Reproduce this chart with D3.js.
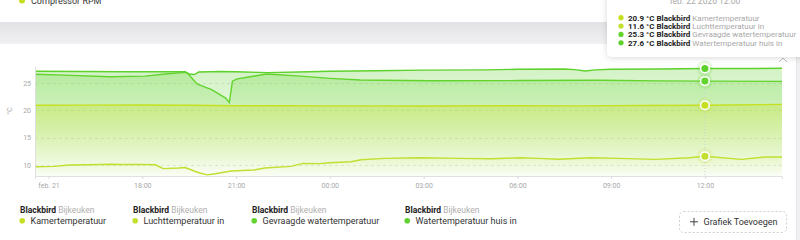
<!DOCTYPE html>
<html>
<head>
<meta charset="utf-8">
<script src="https://cdn.jsdelivr.net/npm/d3@7"></script>
<style>
  body { margin: 0; background: #f0f0f2; font-family: Roboto, "Noto Sans", sans-serif; }
  svg { display: block; }
</style>
</head>
<body>
<svg width="800" height="240"></svg>
<script>
// values, time is "day hh:mm" in feb 2026
var kamerTemp = [
  ["21 14:34", 20.9], ["21 16:00", 20.92], ["21 18:00", 20.95], ["21 19:30", 20.9],
  ["21 21:00", 20.8], ["21 22:30", 20.8], ["22 00:00", 20.78], ["22 03:00", 20.75],
  ["22 06:00", 20.8], ["22 08:00", 20.78], ["22 10:00", 20.85], ["22 12:00", 20.9],
  ["22 14:28", 21.05]
];
var luchtTemp = [
  ["21 14:34", 9.7], ["21 15:10", 9.75], ["21 15:40", 10.0], ["21 16:20", 10.05],
  ["21 17:00", 10.15], ["21 17:20", 10.1], ["21 17:55", 10.12], ["21 18:25", 10.05],
  ["21 18:40", 9.35], ["21 19:10", 9.45], ["21 19:22", 9.55], ["21 19:50", 8.55],
  ["21 20:05", 8.2], ["21 20:20", 8.4], ["21 20:50", 8.9], ["21 21:35", 9.1],
  ["21 21:55", 9.45], ["21 22:45", 9.75], ["21 23:09", 10.3], ["21 23:40", 10.25],
  ["22 00:00", 10.42], ["22 00:40", 10.6], ["22 01:00", 10.97], ["22 01:45", 11.22],
  ["22 02:55", 11.33], ["22 04:10", 11.22], ["22 05:10", 11.15], ["22 06:05", 11.33],
  ["22 06:40", 11.22], ["22 07:20", 11.05], ["22 08:20", 11.33], ["22 09:15", 11.22],
  ["22 10:25", 11.04], ["22 11:30", 11.33], ["22 12:00", 11.6], ["22 13:10", 11.04],
  ["22 13:55", 11.46], ["22 14:28", 11.46]
];
var gevraagdeTemp = [
  ["21 14:34", 26.55], ["21 15:30", 26.4], ["21 16:58", 26.1], ["21 18:05", 26.2],
  ["21 18:44", 26.6], ["21 19:22", 26.9], ["21 19:26", 26.8], ["21 19:32", 26.2],
  ["21 19:45", 24.8], ["21 20:14", 23.7], ["21 20:40", 22.2], ["21 20:47", 21.4],
  ["21 20:53", 25.3], ["21 21:02", 25.7], ["21 21:27", 26.1], ["21 21:59", 26.6],
  ["21 23:04", 26.2], ["22 00:00", 25.8], ["22 00:58", 25.5], ["22 03:12", 25.36],
  ["22 06:05", 25.4], ["22 08:39", 25.45], ["22 10:30", 25.35], ["22 12:00", 25.3],
  ["22 14:28", 25.25]
];
var waterTemp = [
  ["21 14:34", 27.1], ["21 16:00", 27.05], ["21 17:30", 27.0], ["21 18:30", 27.0],
  ["21 19:22", 27.0], ["21 19:30", 26.6], ["21 19:40", 26.5], ["21 19:48", 26.95],
  ["21 20:30", 27.05], ["21 21:00", 27.0], ["21 22:00", 26.85], ["21 23:00", 26.95],
  ["22 00:00", 27.1], ["22 01:30", 27.2], ["22 03:00", 27.3], ["22 05:00", 27.35],
  ["22 06:00", 27.45], ["22 07:30", 27.5], ["22 07:50", 27.4], ["22 08:10", 27.15],
  ["22 08:30", 27.35], ["22 09:00", 27.45], ["22 10:30", 27.5], ["22 12:00", 27.6],
  ["22 13:30", 27.6], ["22 14:28", 27.65]
];

var seriesNames = ["Kamertemperatuur", "Luchttemperatuur in", "Gevraagde watertemperatuur", "Watertemperatuur huis in"];
var seriesColors = ["#c6df20", "#c1df2e", "#62d42e", "#5fd12c"];
var deviceName = "Blackbird";
var roomName = "Bijkeuken";

var xTimes = ["21 15:00", "21 18:00", "21 21:00", "22 00:00", "22 03:00", "22 06:00", "22 09:00", "22 12:00"];
var xTickLabels = ["feb. 21", "18:00", "21:00", "00:00", "03:00", "06:00", "09:00", "12:00"];
var yTicks = [10, 15, 20, 25];
var xDomain = ["21 14:34", "22 14:28"];
var yDomain = [8, 28];
var hoverTime = "22 12:00";
var hoverTitle = "feb. 22 2026 12:00";

var parse = function (s) { return d3.timeParse("%Y-%m-%d %H:%M")("2026-02-" + s); };

var svg = d3.select("svg");
var allSeries = [kamerTemp, luchtTemp, gevraagdeTemp, waterTemp].map(function (arr, i) {
  return {
    name: seriesNames[i],
    color: seriesColors[i],
    values: arr.map(function (d) { return { t: parse(d[0]), v: d[1] }; })
  };
});

var defs = svg.append("defs");
var bandGrad = defs.append("linearGradient").attr("id", "band").attr("x1", 0).attr("x2", 0).attr("y1", 0).attr("y2", 1);
bandGrad.append("stop").attr("offset", 0).attr("stop-color", "#e2e2e6");
bandGrad.append("stop").attr("offset", 1).attr("stop-color", "#f1f1f3");

var shadow = defs.append("filter").attr("id", "shadow").attr("x", -0.2).attr("y", -0.2).attr("width", 1.4).attr("height", 1.6);
shadow.append("feDropShadow").attr("dx", 0).attr("dy", 1).attr("stdDeviation", 3).attr("flood-color", "#000").attr("flood-opacity", 0.15);

// page pieces
svg.append("rect").attr("x", 0).attr("y", 0).attr("width", 800).attr("height", 22).attr("fill", "#fff");
svg.append("rect").attr("x", 0).attr("y", 22).attr("width", 800).attr("height", 22).attr("fill", "url(#band)");
svg.append("rect").attr("x", 0).attr("y", 44).attr("width", 796).attr("height", 196).attr("fill", "#fff");
svg.append("line").attr("x1", 796.5).attr("x2", 796.5).attr("y1", 44).attr("y2", 240).attr("stroke", "#e6e6e8");

// cut off legend of the card above
svg.append("circle").attr("cx", 22).attr("cy", 0.5).attr("r", 3).attr("fill", seriesColors[0]);
svg.append("text").attr("x", 31).attr("y", 3.5).attr("font-size", 9).attr("fill", "#333").text("Compressor RPM");

var x = d3.scaleTime().domain(xDomain.map(parse)).range([35, 782]);
var y = d3.scaleLinear().domain(yDomain).range([176, 66.3]);

// grid
svg.append("g").selectAll("line").data(yTicks).enter().append("line")
  .attr("x1", 35).attr("x2", 782)
  .attr("y1", function (d) { return Math.round(y(d)) + 0.5; })
  .attr("y2", function (d) { return Math.round(y(d)) + 0.5; })
  .attr("stroke", "#e6e6e6").attr("stroke-dasharray", "3,3");

// gradients for the areas
var topOpacity = [0.5, 0.36, 0.28, 0.28];
allSeries.forEach(function (s, i) {
  var g = defs.append("linearGradient").attr("id", "fill" + i)
    .attr("gradientUnits", "userSpaceOnUse").attr("x1", 0).attr("x2", 0).attr("y1", 66).attr("y2", 176);
  g.append("stop").attr("offset", 0).attr("stop-color", s.color).attr("stop-opacity", topOpacity[i]);
  g.append("stop").attr("offset", 1).attr("stop-color", s.color).attr("stop-opacity", 0.01);
});

var area = d3.area()
  .x(function (d) { return x(d.t); })
  .y0(176)
  .y1(function (d) { return y(d.v); });
var line = d3.line()
  .x(function (d) { return x(d.t); })
  .y(function (d) { return y(d.v); });

var drawOrder = [3, 2, 0, 1];
svg.append("g").selectAll("path").data(drawOrder).enter().append("path")
  .attr("d", function (i) { return area(allSeries[i].values); })
  .attr("fill", function (i) { return "url(#fill" + i + ")"; });
svg.append("g").selectAll("path").data(drawOrder).enter().append("path")
  .attr("d", function (i) { return line(allSeries[i].values); })
  .attr("fill", "none")
  .attr("stroke", function (i) { return allSeries[i].color; })
  .attr("stroke-width", 1.4);

// axes
var xAxis = d3.axisBottom(x)
  .tickValues(xTimes.map(parse))
  .tickSize(3)
  .tickFormat(function (d, i) { return xTickLabels[i]; });
var gx = svg.append("g").attr("transform", "translate(0,176)").call(xAxis);
gx.select(".domain").attr("stroke", "#e0e0e0");
gx.selectAll(".tick line").attr("stroke", "#dcdcdc");
gx.selectAll(".tick text").attr("fill", "#a8a8a8").attr("font-size", 7).attr("font-family", "Roboto").attr("dy", "0.9em");

var yAxis = d3.axisLeft(y).tickValues(yTicks).tickSize(0).tickPadding(4);
var gy = svg.append("g").attr("transform", "translate(35,0)").call(yAxis);
gy.select(".domain").attr("stroke", "#e0e0e0");
gy.selectAll(".tick text").attr("fill", "#a8a8a8").attr("font-size", 7).attr("font-family", "Roboto");
svg.append("text").attr("transform", "translate(12,111) rotate(-90)")
  .attr("text-anchor", "middle").attr("font-size", 7.5).attr("fill", "#a8a8a8").text("°C");

// hover marker
var hx = x(parse(hoverTime));
svg.append("line").attr("x1", hx).attr("x2", hx).attr("y1", 66).attr("y2", 176)
  .attr("stroke", "#cfcfcf").attr("stroke-dasharray", "1,2");
var hoverVals = allSeries.map(function (s) {
  return s.values.find(function (d) { return d.t.getTime() === parse(hoverTime).getTime(); });
});
var hg = svg.append("g");
hoverVals.forEach(function (d, i) {
  hg.append("circle").attr("cx", hx).attr("cy", y(d.v)).attr("r", 8)
    .attr("fill", allSeries[i].color).attr("opacity", 0.15);
  hg.append("circle").attr("cx", hx).attr("cy", y(d.v)).attr("r", 4.3)
    .attr("fill", allSeries[i].color).attr("stroke", "#fff").attr("stroke-width", 1.5);
});

// collapse chevron
svg.append("path").attr("d", "M779,62 L783,58 L787,62").attr("fill", "none")
  .attr("stroke", "#bbb").attr("stroke-width", 1);

// tooltip
var tip = svg.append("g");
tip.append("rect").attr("x", 607).attr("y", -10).attr("width", 200).attr("height", 67).attr("rx", 5)
  .attr("fill", "#fff").attr("filter", "url(#shadow)");
tip.append("text").attr("x", 705).attr("y", 3.5).attr("text-anchor", "middle")
  .attr("font-size", 8.5).attr("fill", "#a8a8a8").text(hoverTitle);
var fmt = d3.format(".1f");
hoverVals.forEach(function (d, i) {
  var cy = 17.7 + i * 8.35;
  tip.append("circle").attr("cx", 621).attr("cy", cy).attr("r", 2.6).attr("fill", allSeries[i].color);
  var t = tip.append("text").attr("x", 628).attr("y", cy + 2.8).attr("font-size", 8);
  t.append("tspan").attr("font-weight", "bold").attr("fill", "#222").text(fmt(d.v) + " °C " + deviceName);
  t.append("tspan").attr("fill", "#a8a8a8").text(" " + allSeries[i].name);
});

// legend
var legendX = [20, 133, 252, 405];
var lg = svg.append("g").selectAll("g").data(allSeries).enter().append("g")
  .attr("transform", function (d, i) { return "translate(" + legendX[i] + ",0)"; });
var head = lg.append("text").attr("x", 0).attr("y", 212.5).attr("font-size", 8.5);
head.append("tspan").attr("font-weight", "bold").attr("fill", "#222").text(deviceName);
head.append("tspan").attr("fill", "#b0b0b0").text(" " + roomName);
lg.append("circle").attr("cx", 2.2).attr("cy", 220.8).attr("r", 2.8).attr("fill", function (d) { return d.color; });
lg.append("text").attr("x", 10.5).attr("y", 224).attr("font-size", 9).attr("fill", "#333")
  .text(function (d) { return d.name; });

// add chart button
svg.append("rect").attr("x", 679.5).attr("y", 211.5).attr("width", 107).attr("height", 21).attr("rx", 4)
  .attr("fill", "#fff").attr("stroke", "#cfcfcf").attr("stroke-dasharray", "2,2");
svg.append("path").attr("d", "M690,221.8 H698 M694,217.8 V225.8").attr("stroke", "#444").attr("stroke-width", 1);
svg.append("text").attr("x", 703.5).attr("y", 225).attr("font-size", 9).attr("fill", "#333").text("Grafiek Toevoegen");
</script>
</body>
</html>
